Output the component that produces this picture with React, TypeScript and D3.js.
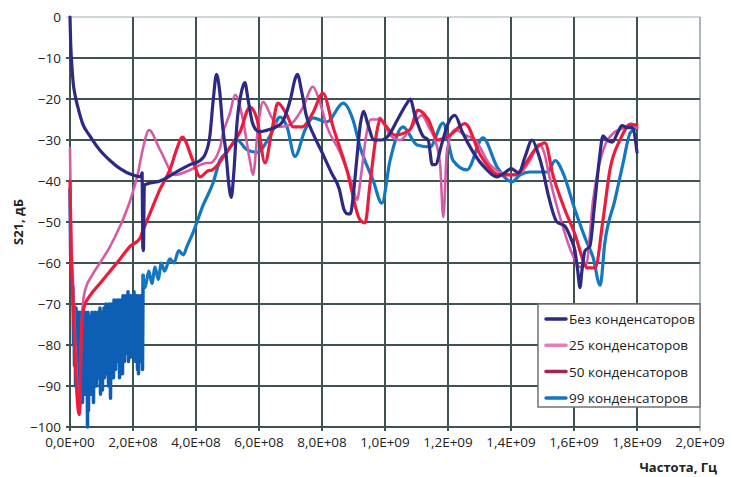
import React from "react";
import * as d3 from "d3";

// frequency in MHz, S21 in dB
const xTicks = [0, 2e8, 4e8, 6e8, 8e8, 1e9, 1.2e9, 1.4e9, 1.6e9, 1.8e9, 2e9];
const xTickLabels = ["0,0E+00", "2,0E+08", "4,0E+08", "6,0E+08", "8,0E+08", "1,0E+09", "1,2E+09", "1,4E+09", "1,6E+09", "1,8E+09", "2,0E+09"];
const yTicks = [0, -10, -20, -30, -40, -50, -60, -70, -80, -90, -100];
const seriesNames = ["Без конденсаторов", "25 конденсаторов", "50 конденсаторов", "99 конденсаторов"];

const noCaps: [number, number][] = [
  [0, 0], [2, -6], [6, -12], [10, -16], [16, -19], [25, -22], [40, -26], [63, -29], [95, -32.5], [127, -35], [159, -37], [197, -38.5], [225, -39], [229, -38], [231, -56], [233, -57], [236, -41], [254, -40.5], [286, -40], [333, -38], [381, -36], [413, -35], [429, -33.5], [444, -29], [455, -20], [465, -14], [475, -18], [485, -27], [495, -33], [503, -40], [512, -44], [520, -38], [530, -26], [545, -18], [555, -16], [565, -20], [580, -26], [600, -28], [630, -27.5], [670, -26], [700, -20], [715, -15], [722, -14], [735, -18], [750, -24], [775, -29], [800, -33], [830, -38], [855, -42], [870, -47], [880, -48], [890, -48], [900, -43], [910, -35], [922, -26], [932, -23], [945, -26], [965, -30], [990, -30], [1010, -29], [1040, -25], [1070, -21], [1080, -20], [1095, -24], [1120, -29], [1137, -30], [1150, -36], [1160, -36], [1180, -31], [1200, -26], [1222, -24], [1245, -28], [1280, -33], [1320, -37], [1355, -39], [1380, -38], [1400, -37], [1425, -38], [1445, -34], [1467, -30], [1485, -33], [1500, -37], [1517, -43], [1546, -50], [1571, -51], [1590, -54], [1603, -57], [1612, -62], [1619, -66], [1625, -62], [1635, -57], [1650, -56], [1665, -46], [1680, -35], [1692, -29], [1705, -30], [1721, -30.5], [1740, -28], [1752, -26.5], [1770, -27], [1785, -27], [1800, -33],
];

const caps25: [number, number][] = [
  [0, -32], [3, -50], [10, -65], [16, -78], [22, -88], [29, -95], [32, -93], [35, -80], [41, -70], [48, -66.6], [70, -63], [95, -60], [127, -56], [159, -51], [190, -45], [216, -38], [229, -33], [251, -27.6], [286, -32.4], [333, -38.5], [381, -37.3], [435, -35.6], [444, -35.6], [476, -32], [486, -28.3], [508, -23.4], [524, -19], [549, -25], [571, -35], [581, -38.5], [597, -26.8], [613, -20.7], [641, -24.6], [667, -26.8], [698, -26.3], [740, -22], [771, -17], [790, -20], [816, -26.8], [857, -33], [898, -41.5], [911, -44.6], [925, -38], [940, -29], [955, -25], [975, -25], [984, -24.6], [1016, -28.8], [1048, -30], [1079, -27.5], [1117, -24], [1140, -27], [1159, -30], [1175, -36], [1185, -48.8], [1197, -32.4], [1222, -27.5], [1254, -28.8], [1286, -30], [1333, -36], [1397, -38.5], [1430, -38], [1460, -35], [1490, -31], [1505, -33], [1525, -40], [1560, -50], [1590, -57], [1620, -61], [1640, -60], [1660, -45], [1680, -36], [1700, -31], [1730, -28], [1760, -27], [1780, -26], [1800, -27],
];

const caps50: [number, number][] = [
  [0, -40], [3, -55], [10, -70], [16, -82], [22, -92], [29, -97], [32, -94], [35, -80], [41, -72], [48, -70], [63, -68], [95, -65], [127, -62], [159, -59], [190, -56], [222, -54], [232, -52], [248, -49], [286, -42], [317, -37.3], [340, -32], [356, -29.3], [390, -35], [413, -39], [438, -37.5], [451, -37.3], [502, -32.4], [540, -28], [571, -22], [594, -25], [619, -35.6], [641, -27.6], [660, -21], [689, -24], [708, -26.8], [737, -26.8], [771, -23.4], [803, -18.6], [835, -26.8], [879, -37.3], [921, -49.5], [937, -50.2], [952, -41], [975, -27.6], [984, -25], [1000, -26.3], [1032, -28.8], [1079, -27.5], [1105, -22.7], [1137, -25], [1168, -30], [1206, -28.8], [1254, -26], [1302, -33.6], [1365, -38.5], [1413, -38.5], [1444, -36], [1480, -32], [1508, -30.7], [1533, -38.5], [1571, -47], [1603, -53], [1635, -60.5], [1641, -61.2], [1667, -61.2], [1692, -49.5], [1714, -37.3], [1746, -30], [1778, -26.3], [1800, -26.3],
];

// 99 capacitors: start, dense noisy band (MHz, upper dB, lower dB), then smooth part
const caps99Head: [number, number][] = [[0, -42], [2, -58], [5, -63], [8, -66]];
const caps99Noise: [number, number, number][] = [
  [9.5, -66, -80], [12.7, -70, -85], [15.9, -72, -90], [19.0, -71, -86], [22.2, -73, -92], [25.4, -72, -88], [28.6, -74, -95], [31.7, -72, -90], [34.9, -73, -88], [38.1, -72, -94], [41.3, -74, -86], [44.4, -73, -90], [47.6, -72, -92], [50.8, -74, -88], [54.0, -73, -100], [57.1, -72, -96], [60.3, -75, -88], [63.5, -73, -92], [66.7, -74, -86], [69.8, -72, -90], [73.0, -73, -94], [76.2, -74, -88], [79.4, -72, -85], [82.5, -73, -90], [85.7, -74, -86], [88.9, -72, -88], [92.1, -73, -84], [95.2, -71, -92], [98.4, -73, -86], [101.6, -72, -91], [104.8, -72, -85], [107.9, -71, -88], [111.1, -73, -84], [114.3, -70, -87], [117.5, -71, -83], [120.6, -72, -90], [123.8, -70, -85], [127.0, -71, -93], [130.2, -70, -86], [133.3, -72, -84], [136.5, -70, -88], [139.7, -69, -82], [142.9, -71, -86], [146.0, -70, -80], [149.2, -69, -84], [152.4, -71, -82], [155.6, -69, -88], [158.7, -70, -83], [161.9, -69, -86], [165.1, -70, -87], [168.3, -68, -80], [171.4, -69, -84], [174.6, -68, -78], [177.8, -70, -82], [181.0, -68, -80], [184.1, -67, -84], [187.3, -69, -78], [190.5, -68, -83], [193.7, -68, -80], [196.8, -69, -78], [200.0, -68, -82], [203.2, -67, -79], [206.3, -69, -84], [209.5, -68, -80], [212.7, -68, -86], [215.9, -69, -87], [219.0, -68, -82], [222.2, -69, -84], [225.4, -68, -80], [228.6, -69, -86],
];
const caps99Tail: [number, number][] = [
  [232, -63], [238, -66], [250, -62], [260, -65], [270, -61], [280, -64], [290, -60], [300, -62], [317, -59], [330, -60], [345, -57], [360, -58], [371, -56], [390, -52.7], [422, -46], [454, -40.5], [476, -35], [498, -33], [530, -30], [562, -32.4], [594, -33], [635, -29], [667, -24.4], [689, -26.8], [714, -34], [746, -27.6], [771, -24.6], [816, -25.6], [867, -21], [898, -25], [921, -31.7], [962, -39.8], [990, -45.4], [1016, -35], [1057, -26.8], [1102, -31.2], [1143, -31.7], [1184, -25.9], [1216, -35], [1260, -37.3], [1311, -29.5], [1356, -36.6], [1403, -40.2], [1429, -38.5], [1460, -37.8], [1517, -37.8], [1540, -35], [1565, -38], [1603, -47], [1641, -55], [1660, -58.5], [1683, -65.4], [1698, -55], [1730, -44.6], [1756, -35.6], [1778, -28.3], [1800, -27],
];

const lineColors = ["#2d2a84", "#d45ca6", "#ec1c3c", "#1378c0"];
const noiseColor = "#0d5fb6";
const legendColors = ["#2d2a84", "#e77fb5", "#a3234c", "#1378c0"];

export default function App() {
  const W = 732, H = 477;
  const x = d3.scaleLinear().domain([0, 2e9]).range([70, 700]);
  const y = d3.scaleLinear().domain([0, -100]).range([17, 427]);
  const smooth = d3
    .line<[number, number]>()
    .x((d) => x(d[0] * 1e6))
    .y((d) => y(d[1]))
    .curve(d3.curveMonotoneX);
  const straight = d3
    .line<[number, number]>()
    .x((d) => x(d[0] * 1e6))
    .y((d) => y(d[1]))
    .curve(d3.curveLinear);

  const noisePts: [number, number][] = [];
  caps99Noise.forEach(([f, top, bottom]) => {
    noisePts.push([f, top]);
    noisePts.push([f + 1.6, bottom]);
  });
  const noiseLine = [...caps99Head, ...noisePts, caps99Tail[0]];

  const font = "'Open Sans', 'Noto Sans', sans-serif";
  const gridColor = "#3f5252";
  const legendX = 538, legendY = 304, legendW = 162, legendH = 103;
  const sw = 3.2;
  return (
    <svg width={W} height={H} style={{ position: "absolute", left: 0, top: 0, background: "#fff" }}>
      <rect x={70} y={17} width={630} height={410} fill="#fff" stroke="#cfe0ea" strokeWidth={1} />
      {xTicks.map((t, i) => (
        <line key={"vx" + i} x1={x(t)} x2={x(t)} y1={17} y2={431} stroke={gridColor} strokeWidth={2} opacity={i === 10 ? 0.35 : 1} />
      ))}
      {yTicks.map((t, i) => (
        <line key={"hy" + i} x1={66} x2={700} y1={y(t)} y2={y(t)} stroke={gridColor} strokeWidth={2} opacity={i === 0 ? 0.15 : 1} />
      ))}
      {yTicks.map((t, i) => (
        <text key={"yl" + i} x={61} y={y(t) + 5} textAnchor="end" fontSize={13.5} fontFamily={font} fill="#222">
          {t === 0 ? "0" : "−" + Math.abs(t)}
        </text>
      ))}
      {xTicks.map((t, i) => (
        <text key={"xl" + i} x={x(t)} y={447} textAnchor="middle" fontSize={13.5} fontFamily={font} fill="#222">
          {xTickLabels[i]}
        </text>
      ))}
      <g fill="none" strokeLinejoin="round" strokeLinecap="round">
        <path d={straight(noiseLine) || ""} stroke={noiseColor} strokeWidth={3.5} />
        <path d={smooth(caps99Tail) || ""} stroke={lineColors[3]} strokeWidth={sw} />
        <path d={smooth(caps25) || ""} stroke={lineColors[1]} strokeWidth={2.6} />
        <path d={smooth(caps50) || ""} stroke={lineColors[2]} strokeWidth={sw} />
        <path d={smooth(noCaps) || ""} stroke={lineColors[0]} strokeWidth={sw} />
      </g>
      <text transform="translate(23,222) rotate(-90)" textAnchor="middle" fontSize={13} fontWeight="bold" fontFamily={font} fill="#222">
        S21, дБ
      </text>
      <text x={717} y={472} textAnchor="end" fontSize={13} fontWeight="bold" fontFamily={font} fill="#222">
        Частота, Гц
      </text>
      <rect x={legendX} y={legendY} width={legendW} height={legendH} fill="#fff" stroke="#707070" strokeWidth={1.5} />
      {seriesNames.map((n, i) => (
        <g key={"lg" + i}>
          <line x1={legendX + 8} x2={legendX + 28} y1={legendY + 15 + i * 26.3} y2={legendY + 15 + i * 26.3} stroke={legendColors[i]} strokeWidth={3.5} strokeLinecap="round" />
          <text x={legendX + 31} y={legendY + 20 + i * 26.3} fontSize={13.5} fontFamily={font} fill="#222">
            {n}
          </text>
        </g>
      ))}
    </svg>
  );
}
